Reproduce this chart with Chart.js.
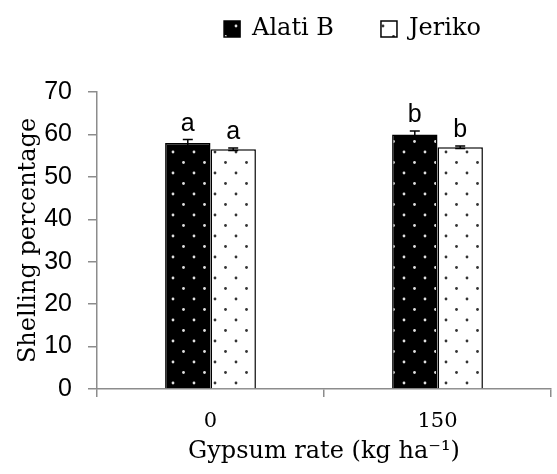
<!DOCTYPE html>
<html>
<head>
<meta charset="utf-8">
<script src="https://cdn.jsdelivr.net/npm/chart.js@4.4.0/dist/chart.umd.min.js"></script>
<style>
  html, body { margin: 0; padding: 0; background: #fff; }
  #wrap { width: 557px; height: 474px; }
</style>
</head>
<body>
<div id="wrap"><canvas id="chart" width="557" height="474"></canvas></div>
<script>
// ===== Data =====
var categories = ['0', '150'];
var alatiB = [58.0, 60.0];
var jeriko = [56.5, 57.0];
var alatiErr = [0.8, 0.8];
var jerikoErr = [0.3, 0.3];
var alatiLetters = ['a', 'b'];
var jerikoLetters = ['a', 'b'];
var yMin = 0, yMax = 70, yStep = 10;

var SERIF = '"DejaVu Serif", serif';
var SANS = '"Liberation Sans", Arial, sans-serif';
var AXIS_GRAY = '#8c8c8c';

// dotted fill patterns like the Excel ones
function makePattern(bg, dot) {
  var c = document.createElement('canvas');
  c.width = 21; c.height = 21;
  var g = c.getContext('2d');
  g.fillStyle = bg;
  g.fillRect(0, 0, 21, 21);
  g.fillStyle = dot;
  [[5, 5], [15.5, 15.5]].forEach(function(p) {
    g.beginPath();
    g.arc(p[0], p[1], 1.4, 0, Math.PI * 2);
    g.fill();
  });
  return document.getElementById('chart').getContext('2d').createPattern(c, 'repeat');
}

var blackDots = makePattern('#000', '#e0e0e0');
var whiteDots = makePattern('#fff', '#333');

// error bars + significance letters
var errorBarPlugin = {
  id: 'errorBars',
  afterDatasetsDraw: function(chart) {
    var ctx = chart.ctx;
    var y = chart.scales.y;
    chart.data.datasets.forEach(function(ds, di) {
      var meta = chart.getDatasetMeta(di);
      meta.data.forEach(function(bar, i) {
        var v = ds.data[i], e = ds.errors[i];
        var top = y.getPixelForValue(v + e);
        var bot = y.getPixelForValue(v - e);
        ctx.save();
        ctx.strokeStyle = '#000';
        ctx.lineWidth = 1.5;
        ctx.beginPath();
        ctx.moveTo(bar.x, top); ctx.lineTo(bar.x, bot);
        ctx.moveTo(bar.x - 5, top); ctx.lineTo(bar.x + 5, top);
        ctx.moveTo(bar.x - 5, bot); ctx.lineTo(bar.x + 5, bot);
        ctx.stroke();
        ctx.fillStyle = '#000';
        ctx.font = '25px ' + SANS;
        ctx.textAlign = 'center';
        ctx.textBaseline = 'alphabetic';
        ctx.fillText(ds.letters[i], bar.x, top - 9);
        ctx.restore();
      });
    });
  }
};

// the reference legend sits right of centre and close to the top edge
var legendShift = {
  id: 'legendShift',
  afterLayout: function(chart) {
    var lg = chart.legend;
    if (!lg) return;
    lg.left += 77; lg.right += 77;
    lg.top -= 41; lg.bottom -= 41;
  }
};

new Chart(document.getElementById('chart'), {
  type: 'bar',
  data: {
    labels: categories,
    datasets: [
      { label: 'Alati B', data: alatiB, errors: alatiErr, letters: alatiLetters,
        backgroundColor: blackDots, borderColor: '#000', borderWidth: 1.5,
        categoryPercentage: 0.4, barPercentage: 1.0 },
      { label: 'Jeriko', data: jeriko, errors: jerikoErr, letters: jerikoLetters,
        backgroundColor: whiteDots, borderColor: '#000', borderWidth: 1.5,
        categoryPercentage: 0.4, barPercentage: 1.0 }
    ]
  },
  options: {
    responsive: false,
    animation: false,
    devicePixelRatio: 1,
    layout: { padding: { left: 0, right: 6, top: 11, bottom: 0 } },
    plugins: {
      legend: {
        position: 'top',
        labels: {
          color: '#000',
          font: { family: SERIF, size: 24 },
          boxWidth: 16, boxHeight: 16,
          padding: 47
        }
      },
      tooltip: { enabled: false }
    },
    scales: {
      x: {
        grid: { offset: true, drawOnChartArea: false, color: AXIS_GRAY, tickLength: 8, lineWidth: 1.5 },
        border: { color: AXIS_GRAY, width: 1.5 },
        ticks: { color: '#000', font: { family: SERIF, size: 21 }, padding: 12 },
        title: { display: true, text: 'Gypsum rate (kg ha⁻¹)', color: '#000',
          font: { family: SERIF, size: 24 }, padding: { top: 0, bottom: 8 } },
        afterFit: function(s) { s.height = 85; }
      },
      y: {
        min: yMin, max: yMax,
        grid: { drawOnChartArea: false, color: AXIS_GRAY, tickLength: 9, lineWidth: 1.5 },
        border: { color: AXIS_GRAY, width: 1.5 },
        ticks: { stepSize: yStep, color: '#000', font: { family: SANS, size: 25 }, padding: 16 },
        title: { display: true, text: 'Shelling percentage', color: '#000',
          font: { family: SERIF, size: 24 }, padding: { top: 14, bottom: 0 } },
        afterFit: function(s) { s.width = 97; }
      }
    }
  },
  plugins: [errorBarPlugin, legendShift]
});
</script>
</body>
</html>
